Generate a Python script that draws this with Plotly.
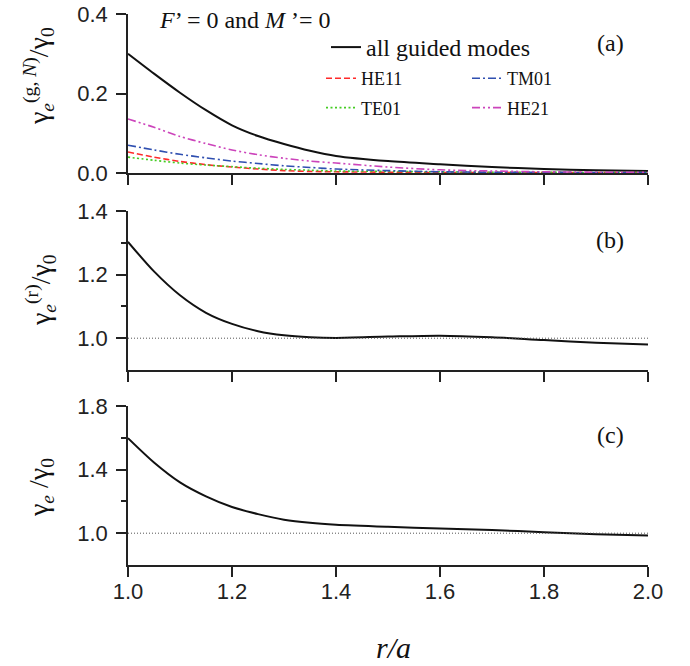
import plotly.graph_objects as go

# ---------------- data ----------------
r = [1.0, 1.05, 1.1, 1.15, 1.2, 1.25, 1.3, 1.35, 1.4, 1.5, 1.6, 1.7, 1.8, 1.9, 2.0]

all_guided = [0.300, 0.250, 0.202, 0.158, 0.120, 0.093, 0.073, 0.056, 0.043, 0.030, 0.022, 0.015, 0.010, 0.007, 0.005]
he11 = [0.053, 0.040, 0.029, 0.021, 0.015, 0.010, 0.006, 0.004, 0.003, 0.002, 0.001, 0.001, 0.001, 0.001, 0.001]
tm01 = [0.070, 0.058, 0.047, 0.038, 0.030, 0.024, 0.018, 0.014, 0.010, 0.006, 0.003, 0.002, 0.002, 0.001, 0.001]
te01 = [0.040, 0.032, 0.025, 0.020, 0.016, 0.012, 0.009, 0.007, 0.005, 0.004, 0.003, 0.002, 0.002, 0.001, 0.001]
he21 = [0.136, 0.115, 0.092, 0.074, 0.058, 0.046, 0.037, 0.030, 0.025, 0.015, 0.008, 0.005, 0.003, 0.002, 0.002]

radiated = [1.303, 1.210, 1.135, 1.080, 1.045, 1.022, 1.009, 1.003, 1.001, 1.005, 1.008, 1.003, 0.994, 0.986, 0.980]
total = [1.598, 1.445, 1.320, 1.232, 1.165, 1.120, 1.085, 1.065, 1.053, 1.040, 1.030, 1.020, 1.006, 0.993, 0.985]

ref_x = [1.0, 2.0]
ref_y = [1.0, 1.0]

x_ticks = [1.0, 1.2, 1.4, 1.6, 1.8, 2.0]

# ---------------- figure ----------------
SERIF = "Liberation Serif"
SANS = "Liberation Sans"
AX = "#222222"

fig = go.Figure()

def line(y, name, color, dash, width, xa, ya, legend, group, show=True):
    fig.add_trace(go.Scatter(
        x=r, y=y, mode="lines", name=name,
        line=dict(color=color, dash=dash, width=width, shape="spline", smoothing=0.8),
        xaxis=xa, yaxis=ya, legend=legend, legendgroup=group, showlegend=show,
        hoverinfo="skip"))

line(all_guided, "all guided modes", "#111111", "solid", 2, "x", "y", "legend", "g0")
line(he11, "HE11", "#ff2a2a", "6px,3px", 1.6, "x", "y", "legend2", "g1")
line(te01, "TE01", "#44cc22", "2px,2.5px", 1.6, "x", "y", "legend2", "g2")
line(tm01, "TM01", "#2f4fb0", "8px,3px,2px,3px", 1.6, "x", "y", "legend3", "g3")
line(he21, "HE21", "#cc44bb", "8px,3px,2px,3px,2px,3px", 1.6, "x", "y", "legend3", "g4")

line(radiated, "rad", "#111111", "solid", 2, "x2", "y2", "legend", "g5", show=False)
line(total, "tot", "#111111", "solid", 2, "x3", "y3", "legend", "g6", show=False)

for xa, ya in (("x2", "y2"), ("x3", "y3")):
    fig.add_trace(go.Scatter(x=ref_x, y=ref_y, mode="lines",
                             line=dict(color="#555555", width=1, dash="1px,2px"),
                             xaxis=xa, yaxis=ya, showlegend=False, hoverinfo="skip"))

H = 551.0
def dom(top_px, bot_px):
    return [(565 - bot_px) / H, (565 - top_px) / H]

xcommon = dict(range=[1.0, 2.0], tickvals=x_ticks, ticks="outside", ticklen=10, tickwidth=1.5,
               tickcolor=AX, showline=True, linecolor=AX, linewidth=1.5, showgrid=False,
               zeroline=False, domain=[0, 1], automargin=False,
               tickfont=dict(family=SANS, size=22, color=AX), tickformat=".1f")
ycommon = dict(ticks="outside", ticklen=10, tickwidth=1.5, tickcolor=AX, showline=True,
               linecolor=AX, linewidth=1.5, showgrid=False, zeroline=False, automargin=False,
               tickfont=dict(family=SANS, size=22, color=AX), tickformat=".1f",
               ticklabelstandoff=4)

fig.update_layout(
    xaxis=dict(xcommon, anchor="y", showticklabels=False),
    xaxis2=dict(xcommon, anchor="y2", showticklabels=False),
    xaxis3=dict(xcommon, anchor="y3", showticklabels=True, ticklabelstandoff=-4),
    yaxis=dict(ycommon, anchor="x", domain=dom(14, 173), range=[0, 0.4], tickvals=[0.0, 0.2, 0.4]),
    yaxis2=dict(ycommon, anchor="x2", domain=dom(211, 370), range=[0.9, 1.4],
                tickvals=[1.0, 1.2, 1.4],
                minor=dict(tickvals=[1.1, 1.3], ticks="outside", ticklen=5, tickwidth=1.5, tickcolor=AX)),
    yaxis3=dict(ycommon, anchor="x3", domain=dom(406, 565), range=[0.8, 1.8],
                tickvals=[1.0, 1.4, 1.8],
                minor=dict(tickvals=[1.2, 1.6], ticks="outside", ticklen=5, tickwidth=1.5, tickcolor=AX)),
    width=690, height=666,
    margin=dict(l=128, r=42, t=14, b=101),
    paper_bgcolor="white", plot_bgcolor="white",
    legend=dict(x=(326 - 128) / 520, y=(565 - 25) / H, xanchor="left", yanchor="top",
                bgcolor="rgba(0,0,0,0)", borderwidth=0,
                font=dict(family=SERIF, size=24, color="#111111")),
    legend2=dict(x=(321 - 128) / 520, y=(565 - 60) / H, xanchor="left", yanchor="top",
                 bgcolor="rgba(0,0,0,0)", borderwidth=0, tracegroupgap=3,
                 font=dict(family=SERIF, size=18, color="#111111")),
    legend3=dict(x=(467 - 128) / 520, y=(565 - 60) / H, xanchor="left", yanchor="top",
                 bgcolor="rgba(0,0,0,0)", borderwidth=0, tracegroupgap=3,
                 font=dict(family=SERIF, size=18, color="#111111")),
)

ann_font = dict(family=SERIF, size=24, color="#111111")
annotations = [
    dict(text="<i>F</i>\u2019 = 0 and <i>M</i> \u2019= 0", x=(245 - 128) / 520, y=(565 - 20) / H),
    dict(text="(a)", x=(610 - 128) / 520, y=(565 - 43) / H),
    dict(text="(b)", x=(610 - 128) / 520, y=(565 - 240) / H),
    dict(text="(c)", x=(610 - 128) / 520, y=(565 - 435) / H),
    dict(text="<i>r/a</i>", x=(393 - 128) / 520, y=(565 - 647) / H, font=dict(family=SERIF, size=30, color="#111111")),
    dict(text="\u03b3<sub><i>e</i></sub><sup>(g, <i>N</i>)</sup>/\u03b3<sub>0</sub>", x=(38 - 128) / 520, y=(565 - 76) / H,
         textangle=-90, font=dict(family=SERIF, size=28, color="#111111")),
    dict(text="\u03b3<sub><i>e</i></sub><sup>(r)</sup>/\u03b3<sub>0</sub>", x=(40 - 128) / 520, y=(565 - 290) / H,
         textangle=-90, font=dict(family=SERIF, size=28, color="#111111")),
    dict(text="\u03b3<sub><i>e</i></sub> /\u03b3<sub>0</sub>", x=(40 - 128) / 520, y=(565 - 488) / H,
         textangle=-90, font=dict(family=SERIF, size=28, color="#111111")),
]
for a in annotations:
    a.setdefault("font", ann_font)
    fig.add_annotation(xref="paper", yref="paper", showarrow=False, xanchor="center", yanchor="middle", **a)

fig.write_html("out.html")
